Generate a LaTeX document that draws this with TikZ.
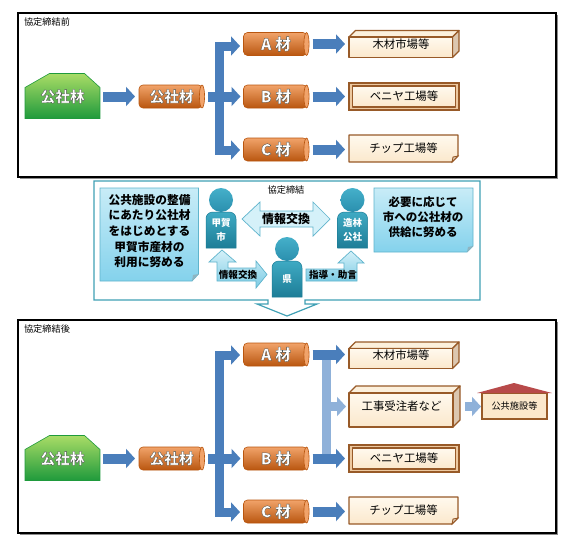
\documentclass[tikz,border=0pt]{standalone}
\usepackage{fontspec}
\setmainfont{Noto Sans CJK JP}
\usetikzlibrary{arrows.meta,calc}
\definecolor{flowblue}{HTML}{4A7EBB}
\definecolor{lightflow}{HTML}{8FB1D9}
\definecolor{boxedge}{HTML}{985A28}
\definecolor{boxtop}{HTML}{FFF9EE}
\definecolor{boxbot}{HTML}{FBE8CC}
\definecolor{sideface}{HTML}{DCC7B0}
\definecolor{topface}{HTML}{FCF0DC}
\definecolor{frametan}{HTML}{EDC9A0}
\definecolor{teal}{HTML}{3FA0B5}
\definecolor{orgL}{HTML}{F1A36A}
\definecolor{orgM}{HTML}{E4701A}
\definecolor{orgD}{HTML}{B9560F}
\definecolor{noteL}{HTML}{C8ECF7}
\definecolor{noteD}{HTML}{84D2EC}
\definecolor{noteE}{HTML}{5FB4CC}
\definecolor{arrD}{HTML}{7CCBE4}
\definecolor{arrL}{HTML}{D5F1F9}
\definecolor{roof}{HTML}{B84A4A}
\definecolor{grA}{HTML}{A9DC66}
\definecolor{grB}{HTML}{37B54A}
\definecolor{grC}{HTML}{1F9A3C}
\definecolor{perA}{HTML}{3FAAC3}
\definecolor{perB}{HTML}{1D7D97}
\definecolor{perH}{HTML}{45B0CA}
\definecolor{perI}{HTML}{2A8FAE}
\definecolor{foldc}{HTML}{8FB4C0}
\newcommand\halo[1]{\special{pdf:code q 0.28 0.3 0.28 RG 0.32 w 2 Tr}#1\special{pdf:code Q}}
\newcommand\grade[1]{{\fontsize{15.6}{16}\bfseries\selectfont #1\kern4pt 材}}
\tikzset{
  x=1pt,y=-1pt,
  plain/.style={inner sep=0pt,outer sep=0pt},
  frameb/.style={draw=black,line width=1.4pt,fill=white},
  frameshadow/.style={fill=black!45,draw=none},
  framelabel/.style={plain,anchor=west,font=\fontsize{9.2}{11}\selectfont},
  flow/.style={draw=flowblue,line width=10pt,line join=miter,-{Triangle[length=9pt,width=19pt]}},
  trunk/.style={draw=flowblue,line width=9pt,line join=miter,-{Triangle[length=9pt,width=19pt]}},
  lflow/.style={draw=lightflow,line width=9pt,line join=miter},
  lflowtip/.style={lflow,-{Triangle[length=9pt,width=19pt]}},
  cylbody/.style={top color=orgL,middle color=orgM,bottom color=orgD,draw=orgD,line width=.6pt},
  boxtext/.style={plain,font=\fontsize{11.4}{14}\selectfont,minimum height=10pt},
  boxshade/.style={top color=boxtop,bottom color=boxbot,draw=boxedge,line width=1.3pt,line join=round},
  whitebold/.style={plain,text=white,font=\fontsize{14.7}{16}\bfseries\selectfont},
  note/.style={top color=noteL,bottom color=noteD,draw=noteE,line width=.8pt},
  notetext/.style={plain,align=center,font=\fontsize{11.7}{15.6}\bfseries\selectfont},
  persontext/.style={plain,align=center,text=white,font=\fontsize{9.5}{13.5}\bfseries\selectfont},
  arrowfill/.style={top color=arrL,bottom color=arrD,draw=noteE,line width=.7pt},
  arrowtext/.style={plain,font=\fontsize{9.6}{11}\bfseries\selectfont},
}
% name, cx, cy, text
\newcommand\cylbox[4]{%
  \begin{scope}[shift={(#2,#3)}]
    \path[cylbody,rounded corners=4pt] (31,-11.5) -- (-32.5,-11.5) -- (-32.5,11.5) -- (31,11.5) -- cycle;
    \filldraw[fill=orgL,draw=orgD,line width=.6pt] (30.5,0) ellipse [x radius=2.6,y radius=11.5];
    \node[whitebold,minimum width=65pt,minimum height=23pt] (#1) at (0,0) {\halo{#4}};
  \end{scope}}
% name, centre y
\newcommand\forestbox[2]{%
  \begin{scope}[shift={(62.5,#2)}]
    \path[top color=grA,middle color=grB,bottom color=grC,draw=grC,line width=.6pt]
      (-37.5,-9) -- (-13,-23) -- (22,-23) -- (37.5,-9) -- (37.5,22) -- (-37.5,22) -- cycle;
    \node[whitebold,minimum width=75pt,minimum height=45pt] (#1) at (0,0) {\raisebox{-5pt}{\halo{公社林}}};
  \end{scope}}
% name, x0, ytop, x1, ybot, depth, text, raise
\newcommand\cubebox[8]{%
  \pgfmathsetmacro\cxa{#4-#6}\pgfmathsetmacro\cya{#3+#6}\pgfmathsetmacro\cyb{#5-#6}\pgfmathsetmacro\cxb{#2+#6}
  \pgfmathsetmacro\cmx{(#2+#4)/2}\pgfmathsetmacro\cmy{(#3+#5)/2}\pgfmathsetlengthmacro\cw{(#4-#2)*1pt}\pgfmathsetlengthmacro\ch{(#5-#3)*1pt}
  \filldraw[fill=topface,draw=boxedge,line width=1.3pt,line join=round] (#2,\cya) -- (\cxb,#3) -- (#4,#3) -- (\cxa,\cya) -- cycle;
  \filldraw[fill=sideface,draw=boxedge,line width=1.3pt,line join=round] (\cxa,\cya) -- (#4,#3) -- (#4,\cyb) -- (\cxa,#5) -- cycle;
  \path[boxshade] (#2,\cya) rectangle (\cxa,#5);
  \node[boxtext,minimum width=\cw,minimum height=\ch] (#1) at (\cmx,\cmy) {\raisebox{#8}{\hspace*{-6pt}#7}};}
% name, y0, y1, text
\newcommand\panelbox[4]{%
  \filldraw[fill=frametan,draw=boxedge,line width=1.3pt] (349,#2) rectangle (459,#3);
  \path[boxshade] (352.5,{#2+3}) rectangle (455.5,{#3-3});
  \node[boxtext,minimum width=110pt,minimum height=27pt] (#1) at (404,{(#2+#3)/2}) {#4};}
\newcommand\foldbox[4]{%
  \path[boxshade] (349,#2) -- (458,#2) -- (458,{#3-6}) -- (452,#3) -- (349,#3) -- cycle;
  \filldraw[fill=sideface,draw=boxedge,line width=.8pt] (458,{#3-6}) -- (453,{#3-5}) -- (452,#3) -- cycle;
  \node[boxtext,minimum width=109pt,minimum height=27pt] (#1) at (403.5,{(#2+#3)/2}) {\raisebox{1.5pt}{#4}};}
% name, head cx, head cy, text
\newcommand\person[4]{%
  \begin{scope}[shift={(#2,#3)}]
    \path[top color=perA,bottom color=perB,draw=perB,line width=.5pt]
      (-9,12) -- (9,12) .. controls (13,13) and (15,15) .. (15,19) -- (15,48) -- (-15,48) -- (-15,19) .. controls (-15,15) and (-13,13) .. (-9,12) -- cycle;
    \shade[top color=perH,bottom color=perI,draw=none] (0,0) circle [radius=12];
    \node[persontext,minimum width=30pt,minimum height=36pt] (#1) at (0,30) {#4};
  \end{scope}}
\begin{document}
\begin{tikzpicture}
\useasboundingbox (0,0) rectangle (581,546);
\fill[white] (0,0) rectangle (581,546);
% ---- top panel
\fill[frameshadow] (19.5,14.5) rectangle (557.5,178.5);
\path[frameb] (18,13) rectangle (556,177);
\node[framelabel] (toplabel) at (24,22) {協定締結前};
\forestbox{fa}{96.5}
\cylbox{ma}{171.5}{96.5}{公社材}
\cylbox{aa}{276}{44}{\grade{A}}
\cylbox{ba}{276}{96.5}{\grade{B}}
\cylbox{ca}{276}{149.5}{\grade{C}}
\cubebox{wa}{349}{30.5}{459}{57.5}{6.5}{木材市場等}{-4pt}
\panelbox{va}{83}{110}{ベニヤ工場等}
\foldbox{ta}{135}{162}{チップ工場等}
\coordinate (ja) at (219,96.5);
\coordinate (ea) at (240,46);
\coordinate (eb) at (240,150);
\draw[flow,shorten <=3pt,shorten >=4pt] (fa.east) -- (ma.west);
\draw[trunk] (ja) |- (ea);
\draw[trunk] (ja) |- (eb);
\draw[flow,shorten <=4pt,shorten >=3pt] (ma.east) -- (ba.west);
\draw[flow,shorten <=4pt,shorten >=4pt] (aa.east) -- (aa.east -| wa.west);
\draw[flow,shorten <=4pt,shorten >=4pt] (ba.east) -- (ba.east -| va.west);
\draw[flow,shorten <=4pt,shorten >=4pt] (ca.east) -- (ca.east -| ta.west);
% ---- bottom panel
\fill[frameshadow] (19.5,321.5) rectangle (557.5,534.5);
\path[frameb] (18,320) rectangle (556,533);
\node[framelabel] (botlabel) at (24,329) {協定締結後};
\forestbox{fb}{458.5}
\cylbox{mb}{171.5}{458.5}{公社材}
\cylbox{ab}{276}{354.5}{\grade{A}}
\cylbox{bb}{276}{458.5}{\grade{B}}
\cylbox{cb}{276}{511.5}{\grade{C}}
\cubebox{wb}{349}{342}{459}{368.5}{6.5}{木材市場等}{-4pt}
\cubebox{kb}{349}{386}{460}{427}{7}{工事受注者など}{-4pt}
\panelbox{vb}{445}{472}{ベニヤ工場等}
\foldbox{tb}{497}{524}{チップ工場等}
% house
\filldraw[fill=boxbot,draw=boxedge,line width=1.3pt] (482,393) rectangle (547,419);
\fill[roof] (477,393) -- (514,383) -- (552,393) -- cycle;
\node[plain,minimum width=65pt,minimum height=26pt,font=\fontsize{9.2}{11}\selectfont] (hb) at (514.5,406) {公共施設等};
\coordinate (la) at (326,354.5);
\coordinate (lc) at (326,458.5);
\draw[lflow] (la) -- (lc);
\draw[lflowtip,shorten >=3pt] (la |- kb.west) -- (kb.west);
\draw[lflowtip,shorten <=5pt,shorten >=1pt] (kb.east) -- (kb.east -| hb.west);
\coordinate (jb) at (219,458.5);
\coordinate (fbe) at (240,355);
\coordinate (gbe) at (240,512);
\draw[flow,shorten <=3pt,shorten >=4pt] (fb.east) -- (mb.west);
\draw[trunk] (jb) |- (fbe);
\draw[trunk] (jb) |- (gbe);
\draw[flow,shorten <=4pt,shorten >=3pt] (mb.east) -- (bb.west);
\draw[flow,shorten <=4pt,shorten >=4pt] (ab.east) -- (ab.east -| wb.west);
\draw[flow,shorten <=4pt,shorten >=4pt] (bb.east) -- (bb.east -| vb.west);
\draw[flow,shorten <=4pt,shorten >=4pt] (cb.east) -- (cb.east -| tb.west);
% ---- middle callout
\filldraw[fill=white,draw=teal,line width=1.2pt,line join=miter]
  (94,181) -- (480,181) -- (480,300) -- (305,300) -- (305,304) -- (317,304) -- (287,316) -- (257,304) -- (268,304) -- (268,300) -- (94,300) -- cycle;
\node[plain,font=\fontsize{9.2}{11}\selectfont] (midlabel) at (286,190) {協定締結};
% notes
\path[note] (100,188) -- (198.5,188) -- (198.5,274) -- (192,281) -- (100,281) -- cycle;
\fill[foldc] (198.5,274) -- (193,275) -- (192,281) -- cycle;
\node[notetext] (nl) at (149.5,231) {公共施設の整備\\にあたり公社材\\をはじめとする\\甲賀市産材の\\利用に努める};
\path[note] (374,188) -- (473,188) -- (473,246) -- (467,252) -- (374,252) -- cycle;
\fill[foldc] (473,246) -- (468,247) -- (467,252) -- cycle;
\node[notetext,font=\fontsize{11.5}{15}\bfseries\selectfont] (nr) at (423,217) {必要に応じて\\市への公社材の\\供給に努める};
% arrows between actors
\path[left color=arrL,middle color=noteD,right color=arrL,draw=noteE,line width=.7pt]
  (242,219) -- (260,202) -- (260,211) -- (313,211) -- (313,202) -- (330,219) -- (313,236) -- (313,227) -- (260,227) -- (260,236) -- cycle;
\node[plain,font=\fontsize{12}{14}\bfseries\selectfont] (ex1) at (286,219) {情報交換};
\path[arrowfill]
  (222,250) -- (236,262) -- (228,262) -- (228,268) -- (256,268) -- (256,261) -- (267,274.5) -- (256,288) -- (256,281) -- (217,281) -- (217,262) -- (209,262) -- cycle;
\node[arrowtext] (ex2) at (238,275) {情報交換};
\path[arrowfill]
  (351,251) -- (364,263) -- (357,263) -- (357,281) -- (306,281) -- (306,269) -- (344,269) -- (344,263) -- (338,263) -- cycle;
\node[arrowtext] (ex3) at (333,275) {指導・助言};
% actors
\person{pa}{221}{200}{甲賀\\市}
\person{pb}{352.5}{200}{造林\\公社}
\person{pc}{287}{249}{県}
\end{tikzpicture}
\end{document}
